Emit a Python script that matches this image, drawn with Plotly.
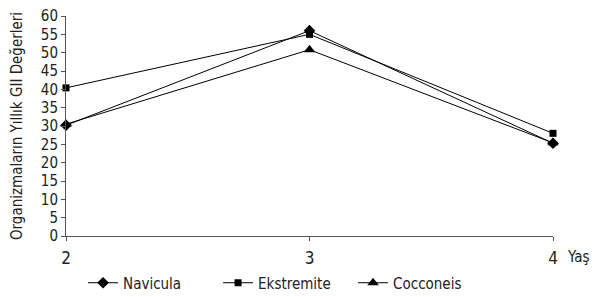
import plotly.graph_objects as go

ages = [2, 3, 4]
navicula = [30.2, 56.0, 25.3]
ekstremite = [40.4, 55.0, 28.0]
cocconeis = [30.5, 50.8, 25.4]
y_ticks = list(range(0, 61, 5))

FONT = "DejaVu Sans Condensed, DejaVu Sans, sans-serif"

fig = go.Figure()
series = [("Navicula", navicula, "diamond", 9),
          ("Ekstremite", ekstremite, "square", 7),
          ("Cocconeis", cocconeis, "triangle-up", 10)]
for name, vals, sym, sz in series:
    fig.add_trace(go.Scatter(x=ages, y=vals, name=name, mode="lines+markers",
                             line=dict(color="black", width=1),
                             marker=dict(symbol=sym, size=sz, color="black"),
                             cliponaxis=False))

# page body has an 8px margin, so the figure is sized to fit the 599x297 window
fig.update_layout(
    width=591, height=289,
    margin=dict(l=58, r=46, t=8, b=61, autoexpand=False),
    paper_bgcolor="white", plot_bgcolor="white",
    font=dict(family=FONT, color="#222", size=14),
    showlegend=True,
    legend=dict(orientation="h", x=0.035, xanchor="left", y=-0.2136, yanchor="middle",
                font=dict(size=15), entrywidth=90, entrywidthmode="pixels",
                tracegroupgap=0, bgcolor="rgba(0,0,0,0)"),
    xaxis=dict(range=[2, 4], tickvals=ages, ticktext=[str(a) for a in ages],
               showgrid=False, zeroline=False, showline=True, linecolor="#555",
               linewidth=1, ticks="outside", ticklen=4, tickcolor="#555",
               tickfont=dict(size=17), ticklabelstandoff=3, automargin=False),
    yaxis=dict(range=[0, 60], tickvals=y_ticks, showgrid=False, zeroline=False,
               showline=True, linecolor="#555", linewidth=1, ticks="outside",
               ticklen=4, tickcolor="#555", tickfont=dict(size=15),
               automargin=False, ticklabeloverflow="allow",
               title=dict(text="Organizmaların Yıllık GII Değerleri",
                          font=dict(size=15), standoff=24)),
    annotations=[dict(text="Yaş", x=1.0, xref="paper", y=0, yref="paper",
                      xanchor="left", yanchor="top", xshift=12, yshift=-10,
                      showarrow=False, font=dict(size=15))],
)

fig.write_html("out.html")
